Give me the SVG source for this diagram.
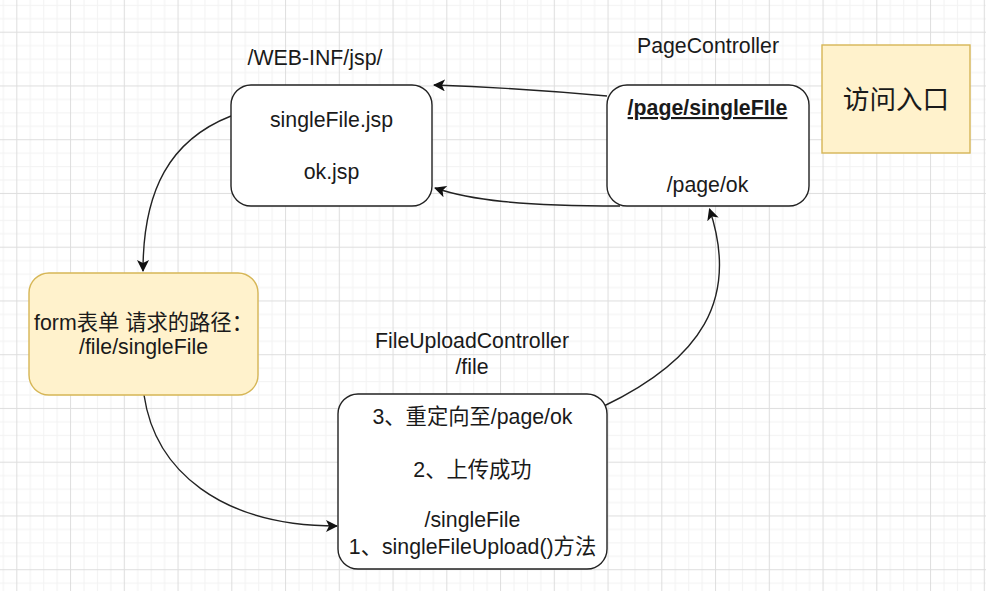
<svg xmlns="http://www.w3.org/2000/svg" width="986" height="591" viewBox="0 0 986 591">
<style>
.t{font-family:"Liberation Sans","Noto Sans CJK SC",Arial,sans-serif;font-size:21.3px;fill:#1a1a1a;text-anchor:middle}
.box{fill:#ffffff;stroke:#222;stroke-width:1.4}
.ybox{fill:#fff2cc;stroke:#d6b656;stroke-width:1.4}
.edge{fill:none;stroke:#222;stroke-width:1.4;marker-end:url(#arr)}
</style>
<defs>
<pattern id="grid" patternUnits="userSpaceOnUse" x="16.3" y="31.7" width="53.75" height="53.75">
<rect x="0" y="0" width="53.75" height="53.75" fill="#ffffff"/>
<g fill="#f3f3f3">
<rect x="13.44" y="0" width="1" height="53.75"/>
<rect x="26.88" y="0" width="1" height="53.75"/>
<rect x="40.31" y="0" width="1" height="53.75"/>
<rect x="0" y="13.44" width="53.75" height="1"/>
<rect x="0" y="26.88" width="53.75" height="1"/>
<rect x="0" y="40.31" width="53.75" height="1"/>
</g>
<g fill="#dedede">
<rect x="0" y="0" width="1" height="53.75"/>
<rect x="0" y="0" width="53.75" height="1"/>
</g>
</pattern>
<marker id="arr" viewBox="0 0 12 12" refX="11" refY="6" markerWidth="12" markerHeight="12" markerUnits="userSpaceOnUse" orient="auto">
<path d="M0,0 L12,6 L0,12 L3,6 Z" fill="#111"/>
</marker>
</defs>
<rect width="986" height="591" fill="url(#grid)"/>

<g id="labels">
<text class="t" x="315" y="65">/WEB-INF/jsp/</text>
<text class="t" x="708" y="53">PageController</text>
<text class="t" x="472" y="348">FileUploadController</text>
<text class="t" x="472" y="373.5">/file</text>
</g>

<g id="connectors">
<path class="edge" d="M607 96 Q520 88 434 85"/>
<path class="edge" d="M620 206 C520 206 470 200 435 188"/>
<path class="edge" d="M231 116 C170 140 143 190 143 271"/>
<path class="edge" d="M144 395 C155 470 220 526 337 526"/>
<path class="edge" d="M604 406 C700 360 740 300 709.5 209"/>
</g>

<g id="node-jsp">
<rect class="box" x="231" y="85" width="201" height="121" rx="20"/>
<text class="t" x="331.5" y="127">singleFile.jsp</text>
<text class="t" x="331.5" y="179">ok.jsp</text>
</g>

<g id="node-page">
<rect class="box" x="607" y="85" width="202" height="121" rx="20"/>
<text class="t" x="707.5" y="115" font-weight="bold" text-decoration="underline">/page/singleFIle</text>
<text class="t" x="707.5" y="192">/page/ok</text>
</g>

<g id="node-entry">
<rect class="ybox" x="822" y="45" width="148" height="108"/>
<text class="t" x="896" y="108.5" style="font-size:26.6px">访问入口</text>
</g>

<g id="node-form">
<rect class="ybox" x="29" y="273" width="229" height="122" rx="20"/>
<text class="t" x="143.5" y="330">form表单 请求的路径：</text>
<text class="t" x="143.5" y="354">/file/singleFile</text>
</g>

<g id="node-upload">
<rect class="box" x="338" y="394" width="269" height="175" rx="20"/>
<text class="t" x="472.5" y="424">3、重定向至/page/ok</text>
<text class="t" x="472.5" y="476.5">2、上传成功</text>
<text class="t" x="472.5" y="527">/singleFile</text>
<text class="t" x="472.5" y="553.5">1、singleFileUpload()方法</text>
</g>
</svg>
